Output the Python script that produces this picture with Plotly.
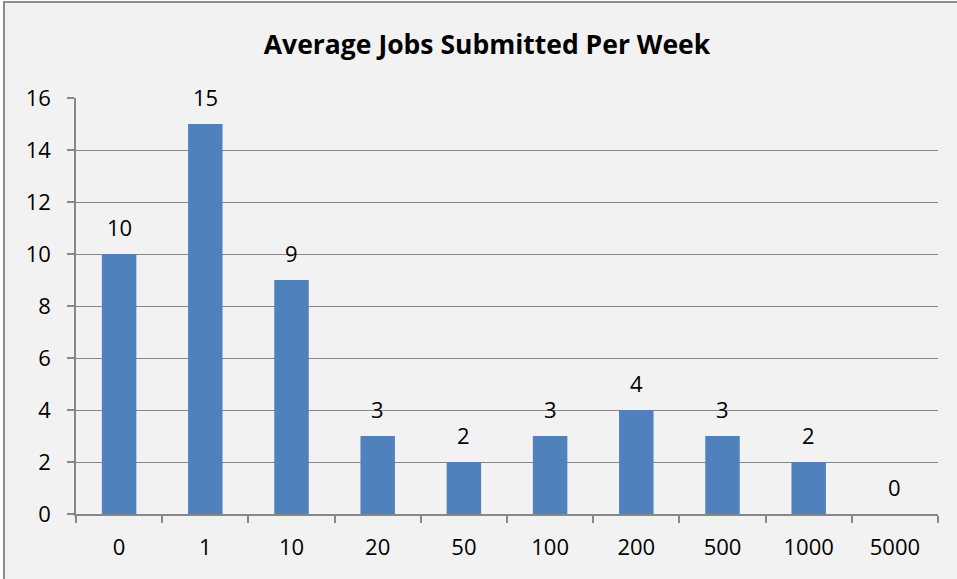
import plotly.graph_objects as go

categories = ["0", "1", "10", "20", "50", "100", "200", "500", "1000", "5000"]
values = [10, 15, 9, 3, 2, 3, 4, 3, 2, 0]
y_ticks = [0, 2, 4, 6, 8, 10, 12, 14, 16]

FONT = "'Open Sans', sans-serif"
GRID = "#878787"

fig = go.Figure(go.Bar(
    x=categories, y=values,
    marker=dict(color="#4F81BD", line=dict(width=0)),
    width=0.4,
    hoverinfo="skip",
))

# data labels: x given as category index (category axes accept serial positions)
for i, v in enumerate(values):
    fig.add_annotation(x=i, y=v, text=str(v), showarrow=False,
                       yanchor="middle", yshift=27,
                       font=dict(size=22, color="#000000", family=FONT))

fig.update_layout(
    width=957, height=579,
    margin=dict(l=76, r=19, t=98, b=65),
    paper_bgcolor="#FFFFFF",
    plot_bgcolor="#F2F2F2",
    showlegend=False,
    title=dict(text="<b>Average Jobs Submitted Per Week</b>", x=487 / 957, xref="container",
               xanchor="center", y=1 - 45 / 579, yanchor="middle",
               font=dict(size=26.5, family=FONT, color="#000000")),
    font=dict(family=FONT, size=22, color="#000000"),
    shapes=[dict(type="rect", xref="paper", yref="paper", layer="below",
                 x0=(4 - 76) / 862, x1=(1000 - 76) / 862,
                 y0=(514 - 700) / 416, y1=(514 - 2) / 416,
                 fillcolor="#F2F2F2", line=dict(color="#8C8C8C", width=2))],
)

fig.update_xaxes(
    type="category",
    categoryorder="array", categoryarray=categories,
    range=[-0.5, len(categories) - 0.5],
    showgrid=False,
    showline=True, linecolor=GRID, linewidth=1.5,
    ticks="outside", ticklen=7, tickcolor=GRID, tickwidth=1.5,
    tickson="boundaries",
    ticklabelstandoff=13,
    tickfont=dict(size=22, family=FONT),
)
fig.update_yaxes(
    range=[0, 16],
    tickvals=y_ticks,
    showgrid=True, gridcolor=GRID, gridwidth=1.2,
    showline=True, linecolor=GRID, linewidth=1.5,
    ticks="outside", ticklen=7, tickcolor=GRID, tickwidth=1.5,
    zeroline=False,
    ticklabelstandoff=12,
    tickfont=dict(size=22, family=FONT),
)

fig.write_html("out.html", config={"displayModeBar": False},
               post_script="document.body.style.margin='0px';document.body.style.padding='0px';")
